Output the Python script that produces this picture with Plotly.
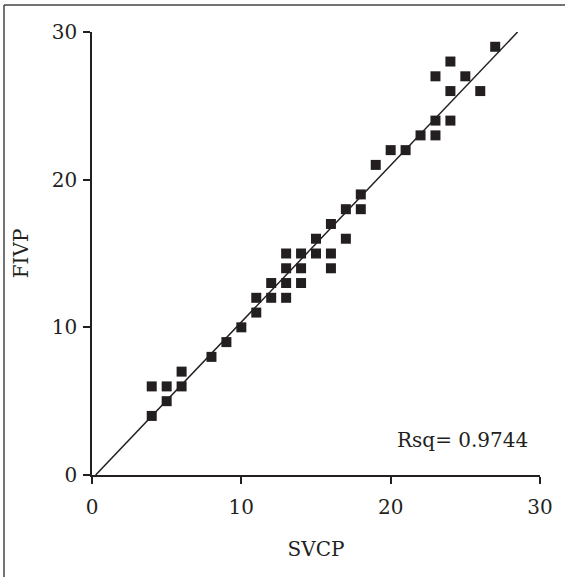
import numpy as np
import plotly.graph_objects as go

svcp = [4, 4, 5, 5, 6, 6, 8, 9, 10, 11, 11, 12, 12, 13, 13, 13, 13, 14, 14, 14,
        15, 15, 16, 16, 16, 17, 17, 18, 18, 19, 20, 21, 22, 23, 23, 23, 24, 24, 24,
        25, 26, 27]
fivp = [6, 4, 6, 5, 7, 6, 8, 9, 10, 12, 11, 13, 12, 15, 14, 13, 12, 15, 14, 13,
        16, 15, 17, 15, 14, 18, 16, 19, 18, 21, 22, 22, 23, 27, 24, 23, 28, 26, 24,
        27, 26, 29]
rsq_label = "Rsq= 0.9744"
ticks = [0, 10, 20, 30]

m, b = np.polyfit(svcp, fivp, 1)
fit_y = np.array([0, 30])
fit_x = (fit_y - b) / m

ink = "#231f20"
font = dict(family="DejaVu Serif", size=20, color=ink)

fig = go.Figure()
fig.add_trace(go.Scatter(x=fit_x, y=fit_y, mode="lines",
                         line=dict(color=ink, width=1.5), hoverinfo="skip"))
fig.add_trace(go.Scatter(x=svcp, y=fivp, mode="markers",
                         marker=dict(symbol="square", size=10, color=ink)))

L, R, T, B = 92, 25, 32, 102
W, H = 565, 577
pw, ph = W - L - R, H - T - B

def px(xp):
    return (xp - L) / pw

def py(yp):
    return (H - B - yp) / ph

fig.add_shape(type="line", xref="paper", yref="paper",
              x0=px(4), x1=px(4), y0=py(5), y1=py(580),
              line=dict(color="#444", width=1.5))
fig.add_shape(type="line", xref="paper", yref="paper",
              x0=px(4), x1=px(570), y0=py(5), y1=py(5),
              line=dict(color="#444", width=1.5))

fig.add_annotation(x=29.3, y=2.4, xref="x", yref="y", text=rsq_label,
                   showarrow=False, xanchor="right", yanchor="middle", font=font)

axis_common = dict(range=[0, 30], tickvals=ticks, ticks="outside", ticklen=7,
                   tickwidth=1.5, tickcolor=ink, showline=True, linecolor=ink,
                   linewidth=1.5, showgrid=False, zeroline=False, tickfont=font,
                   fixedrange=True)
fig.update_xaxes(**axis_common, ticklabelstandoff=6,
                 title=dict(text="SVCP", font=font, standoff=24))
fig.update_yaxes(**axis_common, ticklabelstandoff=2,
                 title=dict(text="FIVP", font=font, standoff=18))

fig.update_layout(width=W, height=H, margin=dict(l=L, r=R, t=T, b=B),
                  paper_bgcolor="white", plot_bgcolor="white", showlegend=False)

fig.write_html("out.html")
